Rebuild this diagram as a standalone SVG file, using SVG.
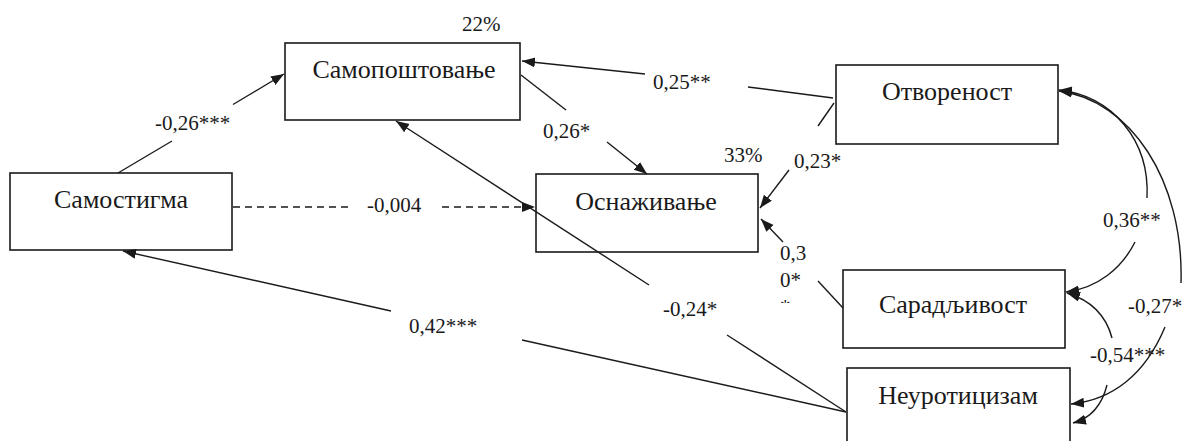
<svg xmlns="http://www.w3.org/2000/svg" width="1182" height="441" viewBox="0 0 1182 441">
  <style>
    .box { fill: none; stroke: #1a1a1a; stroke-width: 1.6; }
    .name { font-family: 'Liberation Serif', 'Times New Roman', serif; font-size: 26px; fill: #1a1a1a; text-anchor: middle; }
    .lbl { font-family: 'Liberation Serif', 'Times New Roman', serif; font-size: 21px; fill: #1a1a1a; }
    .ln { fill: none; stroke: #1a1a1a; stroke-width: 1.4; }
    .dash { stroke-dasharray: 7 5; }
  </style>
  <defs>
    <marker id="arr" markerUnits="userSpaceOnUse" markerWidth="15" markerHeight="12" refX="13" refY="5" orient="auto">
      <path d="M0,0 L13,5 L0,10 z" fill="#1a1a1a"/>
    </marker>
    <clipPath id="clip030">
      <rect x="770" y="240" width="45" height="63"/>
    </clipPath>
  </defs>
  <rect width="1182" height="441" fill="#ffffff"/>

  <!-- nodes -->
  <g id="samopostovanje">
    <rect class="box" x="285" y="43" width="235" height="77"/>
    <text class="name" x="404" y="78">Самопоштовање</text>
  </g>
  <g id="samostigma">
    <rect class="box" x="10" y="173" width="222" height="77"/>
    <text class="name" x="121" y="208">Самостигма</text>
  </g>
  <g id="osnazivanje">
    <rect class="box" x="536" y="174" width="222" height="78"/>
    <text class="name" x="646" y="210">Оснаживање</text>
  </g>
  <g id="otvorenost">
    <rect class="box" x="836" y="65" width="222" height="79"/>
    <text class="name" x="947" y="100">Отвореност</text>
  </g>
  <g id="saradljivost">
    <rect class="box" x="843" y="270" width="222" height="78"/>
    <text class="name" x="953" y="313">Сарадљивост</text>
  </g>
  <g id="neuroticizam">
    <rect class="box" x="847" y="368" width="223" height="80"/>
    <text class="name" x="958" y="404">Неуротицизам</text>
  </g>

  <!-- connectors -->
  <g id="connectors">
    <!-- Самостигма -> Самопоштовање -->
    <line class="ln" x1="118" y1="173" x2="172" y2="141"/>
    <line class="ln" x1="233" y1="104.5" x2="284" y2="74" marker-end="url(#arr)"/>
    <!-- Самостигма -> Оснаживање (dashed) -->
    <line class="ln dash" x1="233" y1="207" x2="350" y2="207"/>
    <line class="ln dash" x1="442" y1="207" x2="535" y2="207" marker-end="url(#arr)"/>
    <!-- Самопоштовање -> Оснаживање -->
    <line class="ln" x1="521" y1="75" x2="566" y2="110"/>
    <line class="ln" x1="607" y1="142" x2="647" y2="174" marker-end="url(#arr)"/>
    <!-- Отвореност -> Самопоштовање -->
    <line class="ln" x1="833" y1="98" x2="748" y2="87"/>
    <line class="ln" x1="645" y1="74" x2="522" y2="61" marker-end="url(#arr)"/>
    <!-- Отвореност -> Оснаживање -->
    <line class="ln" x1="834" y1="103" x2="818" y2="126"/>
    <line class="ln" x1="789" y1="170" x2="760" y2="208" marker-end="url(#arr)"/>
    <!-- Сарадљивост -> Оснаживање -->
    <line class="ln" x1="843" y1="308" x2="818" y2="281"/>
    <line class="ln" x1="783" y1="242" x2="761" y2="219" marker-end="url(#arr)"/>
    <!-- Неуротицизам -> Самопоштовање -->
    <line class="ln" x1="846" y1="412" x2="727" y2="335"/>
    <line class="ln" x1="649" y1="285" x2="396" y2="121" marker-end="url(#arr)"/>
    <!-- Неуротицизам -> Самостигма -->
    <line class="ln" x1="846" y1="412" x2="522" y2="340"/>
    <line class="ln" x1="391" y1="311" x2="123" y2="251" marker-end="url(#arr)"/>
    <!-- Отвореност <-> Сарадљивост -->
    <path class="ln" d="M1147,198 C1150,140 1112,96 1059,90" marker-end="url(#arr)"/>
    <path class="ln" d="M1135,242 C1122,268 1098,288 1066,292" marker-end="url(#arr)"/>
    <!-- Отвореност <-> Неуротицизам -->
    <path class="ln" d="M1181,283 C1184,180 1130,100 1059,91" marker-end="url(#arr)"/>
    <path class="ln" d="M1165,327 C1145,375 1112,400 1071,404" marker-end="url(#arr)"/>
    <!-- Сарадљивост <-> Неуротицизам -->
    <path class="ln" d="M1112,338 C1106,315 1090,300 1067,293" marker-end="url(#arr)"/>
    <path class="ln" d="M1107,385 C1102,405 1092,418 1073,423" marker-end="url(#arr)"/>
  </g>

  <!-- path coefficients and explained variance -->
  <g id="labels">
    <text class="lbl" x="155" y="130">-0,26***</text>
    <text class="lbl" x="367" y="212">-0,004</text>
    <text class="lbl" x="543" y="138">0,26*</text>
    <text class="lbl" x="653" y="89">0,25**</text>
    <text class="lbl" x="794" y="168">0,23*</text>
    <text class="lbl" x="462" y="31">22%</text>
    <text class="lbl" x="724" y="162">33%</text>
    <g clip-path="url(#clip030)">
      <text class="lbl" x="780" y="260">0,3</text>
      <text class="lbl" x="780" y="287">0*</text>
      <text class="lbl" x="780" y="314">*</text>
    </g>
    <text class="lbl" x="663" y="316">-0,24*</text>
    <text class="lbl" x="409" y="333">0,42***</text>
    <text class="lbl" x="1103" y="227">0,36**</text>
    <text class="lbl" x="1128" y="313">-0,27*</text>
    <text class="lbl" x="1090" y="362">-0,54***</text>
  </g>
</svg>
